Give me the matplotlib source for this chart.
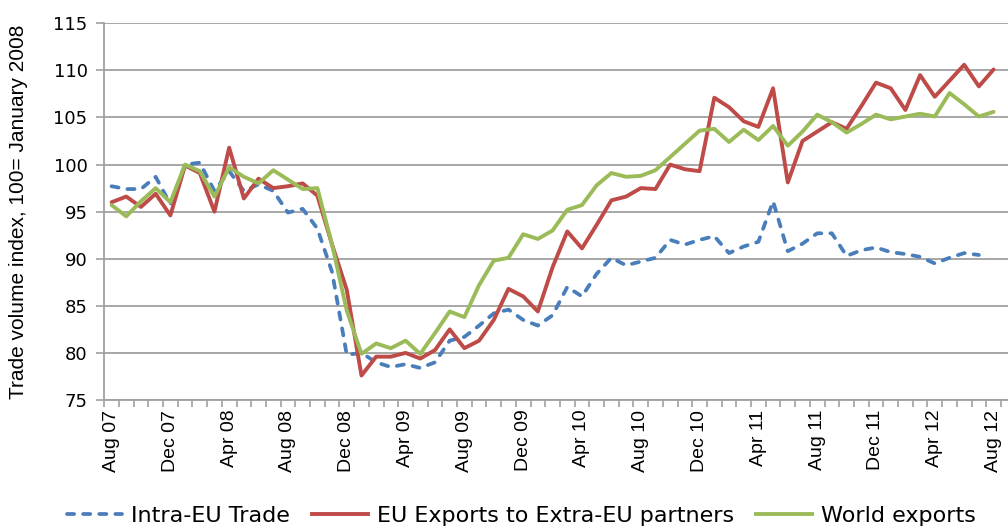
import matplotlib
matplotlib.use("Agg")
import matplotlib.pyplot as plt
import numpy as np
from matplotlib.lines import Line2D

# ---------------- data (monthly, Aug 07 .. Aug 12) ----------------
intra_eu = [97.7, 97.4, 97.4, 98.7, 95.8, 100.0, 100.2, 97.2, 99.3, 97.2,
            97.9, 97.2, 94.9, 95.3, 93.2, 88.6, 79.8, 80.0, 79.0, 78.5,
            78.8, 78.4, 79.0, 81.3, 81.7, 82.9, 84.2, 84.6, 83.5, 82.9,
            84.0, 87.0, 86.0, 88.4, 90.1, 89.3, 89.7, 90.1, 92.0, 91.5,
            92.0, 92.4, 90.6, 91.3, 91.8, 96.1, 90.8, 91.6, 92.7, 92.7,
            90.3, 90.9, 91.2, 90.7, 90.5, 90.2, 89.5, 90.1, 90.6, 90.4]

extra_eu = [96.0, 96.6, 95.5, 96.9, 94.6, 99.9, 99.1, 95.0, 101.8, 96.4,
            98.5, 97.5, 97.7, 98.0, 96.7, 91.5, 86.7, 77.6, 79.6, 79.6,
            80.0, 79.4, 80.3, 82.5, 80.5, 81.3, 83.5, 86.8, 86.0, 84.4,
            89.1, 92.9, 91.1, 93.6, 96.2, 96.6, 97.5, 97.4, 100.0, 99.5,
            99.3, 107.1, 106.1, 104.6, 104.0, 108.1, 98.1, 102.5, 103.5, 104.5,
            103.8, 106.2, 108.7, 108.1, 105.8, 109.5, 107.2, 108.9, 110.6, 108.3,
            110.1]

world = [95.7, 94.5, 96.1, 97.5, 96.0, 100.0, 99.3, 96.6, 99.7, 98.7,
         98.0, 99.4, 98.4, 97.4, 97.5, 91.5, 84.5, 79.9, 81.0, 80.5,
         81.3, 79.9, 82.1, 84.4, 83.8, 87.2, 89.8, 90.1, 92.6, 92.1,
         93.0, 95.2, 95.7, 97.8, 99.1, 98.7, 98.8, 99.4, 100.8, 102.2,
         103.6, 103.8, 102.4, 103.7, 102.6, 104.1, 102.0, 103.5, 105.3, 104.5,
         103.4, 104.3, 105.3, 104.8, 105.1, 105.4, 105.1, 107.6, 106.4, 105.1,
         105.6]

tick_labels = ["Aug 07", "Dec 07", "Apr 08", "Aug 08", "Dec 08", "Apr 09",
               "Aug 09", "Dec 09", "Apr 10", "Aug 10", "Dec 10", "Apr 11",
               "Aug 11", "Dec 11", "Apr 12", "Aug 12"]
label_step = 4

series_names = ["Intra-EU Trade", "EU Exports to Extra-EU partners", "World exports"]
colors = ["#4A7EBB", "#BE4B48", "#9BBB59"]

# ---------------- figure ----------------
W, H = 1008, 526
fig = plt.figure(figsize=(W / 100, H / 100), dpi=100)
ax = fig.add_axes([104.2 / W, 1 - 400 / H, 1 - 104.2 / W, (400 - 23.3) / H])

grid_col = "#A0A0A0"

x_b = np.arange(len(intra_eu))
x_r = np.arange(len(extra_eu))
x_g = np.arange(len(world))

ax.plot(x_b, intra_eu, color=colors[0], lw=2.7, dashes=(1.9, 2.4),
        dash_capstyle="round", solid_joinstyle="round", zorder=3)
ax.plot(x_r, extra_eu, color=colors[1], lw=2.8, solid_joinstyle="round",
        solid_capstyle="round", zorder=4)
ax.plot(x_g, world, color=colors[2], lw=2.8, solid_joinstyle="round",
        solid_capstyle="round", zorder=5)

ax.set_xlim(-0.5, 60.98)
ax.set_ylim(75, 115)

# y axis
ax.set_yticks(np.arange(75, 116, 5))
ax.yaxis.grid(True, color=grid_col, lw=1.3)
ax.set_axisbelow(True)
ax.tick_params(axis="y", direction="out", length=6, width=1.2, color=grid_col,
               pad=6)
for lab in ax.get_yticklabels():
    lab.set_fontfamily("DejaVu Sans")
    lab.set_fontsize(13)
    lab.set_color("black")

# x axis: labels on every 4th month, tick marks at month boundaries
ax.set_xticks(np.arange(len(tick_labels)) * label_step)
ax.set_xticklabels(tick_labels, rotation=90, fontfamily="Liberation Sans",
                   fontsize=14, va="top", ha="center")
ax.set_xticks(np.arange(-0.5, 61.5, 1.0), minor=True)
ax.tick_params(axis="x", which="major", length=0, pad=7)
ax.tick_params(axis="x", which="minor", direction="out", length=5, width=1.2,
               color=grid_col)

for s in ["top", "right"]:
    ax.spines[s].set_visible(False)
for s in ["left", "bottom"]:
    ax.spines[s].set_color(grid_col)
    ax.spines[s].set_linewidth(1.3)

ax.set_ylabel("Trade volume index, 100= January 2008",
              fontfamily="Liberation Sans", fontsize=15, labelpad=18)

# legend
handles = [
    Line2D([], [], color=colors[0], lw=2.7, dashes=(1.9, 2.4), dash_capstyle="round"),
    Line2D([], [], color=colors[1], lw=2.8),
    Line2D([], [], color=colors[2], lw=2.8),
]
fig.legend(handles, series_names, loc="center", bbox_to_anchor=(0.517, 1 - 516 / H),
           ncol=3, frameon=False, prop={"family": "DejaVu Sans", "size": 16},
           handlelength=2.5, handletextpad=0.4, columnspacing=1.0,
           borderpad=0, borderaxespad=0)

fig.savefig("out.png", dpi=100)
